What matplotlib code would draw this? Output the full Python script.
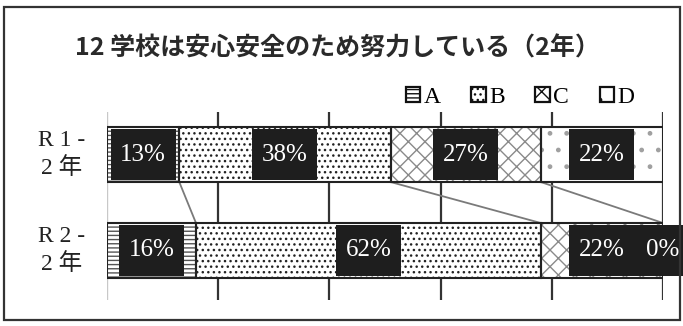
import numpy as np
import matplotlib
matplotlib.use("Agg")
import matplotlib.pyplot as plt
from matplotlib.patches import Rectangle

plt.rcParams['font.family'] = ['Liberation Serif', 'Noto Sans CJK JP']
plt.rcParams['hatch.linewidth'] = 1.0

# data
rows = ["R 1 -\n2 年", "R 2 -\n2 年"]
series = ["A", "B", "C", "D"]
vals = np.array([[13, 38, 27, 22],
                 [16, 62, 22, 0]])
title = "12 学校は安心安全のため努力している（2年）"

hatches = ["----", "...", "xx", "."]
hcols = ["#555555", "#222222", "#8a8a8a", "#a0a0a0"]

W, H = 683, 326
fig = plt.figure(figsize=(W / 100, H / 100), dpi=100)

# outer frame
fig.patches.append(Rectangle((4 / W, 1 - 320 / H), 676 / W, 313 / H,
                             transform=fig.transFigure, fill=False,
                             ec="#333333", lw=1.6))

ax = fig.add_axes([107 / W, 1 - 300 / H, 556 / W, 188 / H])
bh = 0.573
ax.set_xlim(0, 100)
ax.set_ylim(1.516, -0.443)
for s in ax.spines.values():
    s.set_visible(False)
ax.set_xticks([])
ax.set_yticks([])

# grid lines
for g in [0, 20, 40, 60, 80, 100]:
    ax.axvline(g, color="#c8c8c8" if g == 0 else "#333333",
               lw=1.0 if g == 0 else 1.6, zorder=0)

y = np.arange(len(rows))
box_w, box_h = 11.7, 0.53
left = np.zeros(len(rows))
for j, s in enumerate(series):
    w = vals[:, j]
    ax.barh(y, w, left=left, height=bh, color="white", hatch=hatches[j],
            edgecolor=hcols[j], lw=0, zorder=2)
    ax.barh(y, w, left=left, height=bh, fill=False, edgecolor="#222222",
            lw=1.5, zorder=3)
    cen = left + w / 2
    bars = ax.barh(y, box_w, left=cen - box_w / 2, height=box_h,
                   color="#1e1e1e", lw=0, zorder=4)
    for b in bars:
        b.set_clip_on(False)
    for i in range(len(rows)):
        ax.text(cen[i], y[i], f"{w[i]}%", ha="center", va="center",
                fontsize=18, color="white", zorder=5, family="Liberation Serif")
    left = left + w

# series lines
cum = np.cumsum(vals, axis=1)
for j in range(len(series) - 1):
    ax.plot([cum[0, j], cum[1, j]], [y[0] + bh / 2, y[1] - bh / 2],
            color="#7a7a7a", lw=1.3, zorder=1)

# row labels
for i, r in enumerate(rows):
    ax.text(-0.081, y[i], r, transform=ax.get_yaxis_transform(),
            ha="center", va="center", fontsize=17, linespacing=1.4,
            color="#222222")

fig.text(75 / W, 1 - 48 / H, title, ha="left", va="center", fontsize=18,
         family="Noto Sans CJK JP", fontweight="bold", color="#2a2a2a")

handles = [Rectangle((0, 0), 1, 1, fc="white", hatch=hatches[j],
                     ec="#111111", lw=1.6) for j in range(len(series))]
fig.legend(handles, series, loc="center left",
           bbox_to_anchor=(406 / W, 1 - 97 / H), ncol=4, frameon=False,
           fontsize=17, handlelength=0.6, handleheight=0.6,
           handletextpad=0.15, columnspacing=1.3, borderpad=0, borderaxespad=0)

fig.savefig("out.png", dpi=100)
